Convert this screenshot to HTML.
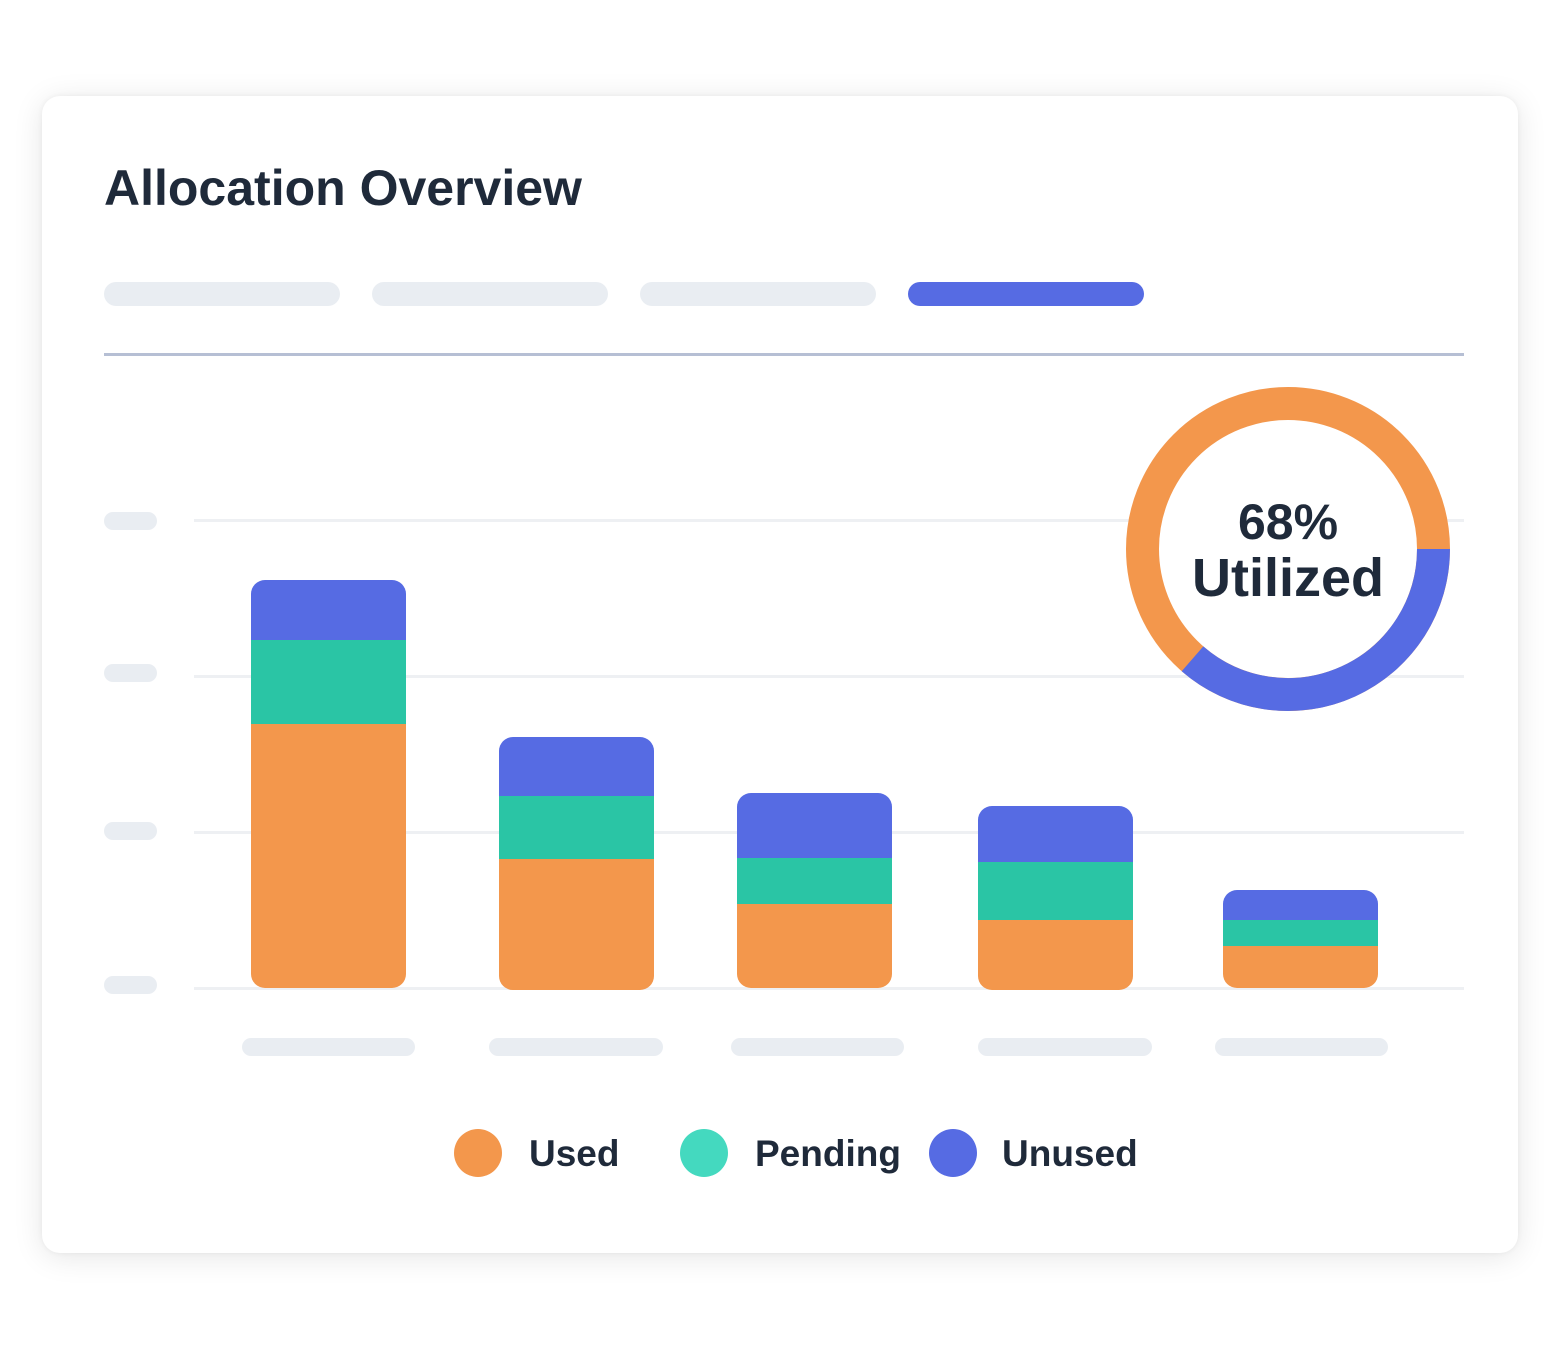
<!DOCTYPE html>
<html><head><meta charset="utf-8"><style>
html,body{margin:0;padding:0;background:#fff;width:1560px;height:1350px;overflow:hidden}
.card{position:absolute;left:42px;top:96px;width:1476px;height:1157px;background:#fff;border-radius:18px;box-shadow:0 4px 30px rgba(0,0,0,0.10),0 0 6px rgba(0,0,0,0.05)}
svg{position:absolute;left:0;top:0}
text{font-family:"Liberation Sans",sans-serif;font-weight:bold;fill:#1f2a3a}
</style></head><body>
<div class="card"></div>
<svg width="1560" height="1350" viewBox="0 0 1560 1350">
<text x="104" y="205" font-size="50">Allocation Overview</text>
<g fill="#e9edf2">
<rect x="104" y="282" width="236" height="24" rx="12"/>
<rect x="372" y="282" width="236" height="24" rx="12"/>
<rect x="640" y="282" width="236" height="24" rx="12"/>
</g>
<rect x="908" y="282" width="236" height="24" rx="12" fill="#566be3"/>
<rect x="104" y="353" width="1360" height="3" fill="#b6bfd4"/>
<g fill="#eef0f3">
<rect x="194" y="519" width="1270" height="3"/>
<rect x="194" y="675" width="1270" height="3"/>
<rect x="194" y="831" width="1270" height="3"/>
<rect x="194" y="987" width="1270" height="3"/>
</g>
<g fill="#e9edf2">
<rect x="104" y="512" width="53" height="18" rx="9"/>
<rect x="104" y="664" width="53" height="18" rx="9"/>
<rect x="104" y="822" width="53" height="18" rx="9"/>
<rect x="104" y="976" width="53" height="18" rx="9"/>
<rect x="242" y="1038" width="173" height="18" rx="9"/>
<rect x="489" y="1038" width="174" height="18" rx="9"/>
<rect x="731" y="1038" width="173" height="18" rx="9"/>
<rect x="978" y="1038" width="174" height="18" rx="9"/>
<rect x="1215" y="1038" width="173" height="18" rx="9"/>
</g>
<defs>
<clipPath id="c1"><rect x="251" y="580" width="155" height="408" rx="14"/></clipPath>
<clipPath id="c2"><rect x="499" y="737" width="155" height="253" rx="14"/></clipPath>
<clipPath id="c3"><rect x="737" y="793" width="155" height="195" rx="14"/></clipPath>
<clipPath id="c4"><rect x="978" y="806" width="155" height="184" rx="14"/></clipPath>
<clipPath id="c5"><rect x="1223" y="890" width="155" height="98" rx="14"/></clipPath>
</defs>
<g clip-path="url(#c1)"><rect x="251" y="580" width="155" height="60" fill="#566be3"/><rect x="251" y="640" width="155" height="84" fill="#2ac5a5"/><rect x="251" y="724" width="155" height="264" fill="#f3974c"/></g>
<g clip-path="url(#c2)"><rect x="499" y="737" width="155" height="59" fill="#566be3"/><rect x="499" y="796" width="155" height="63" fill="#2ac5a5"/><rect x="499" y="859" width="155" height="131" fill="#f3974c"/></g>
<g clip-path="url(#c3)"><rect x="737" y="793" width="155" height="65" fill="#566be3"/><rect x="737" y="858" width="155" height="46" fill="#2ac5a5"/><rect x="737" y="904" width="155" height="84" fill="#f3974c"/></g>
<g clip-path="url(#c4)"><rect x="978" y="806" width="155" height="56" fill="#566be3"/><rect x="978" y="862" width="155" height="58" fill="#2ac5a5"/><rect x="978" y="920" width="155" height="70" fill="#f3974c"/></g>
<g clip-path="url(#c5)"><rect x="1223" y="890" width="155" height="30" fill="#566be3"/><rect x="1223" y="920" width="155" height="26" fill="#2ac5a5"/><rect x="1223" y="946" width="155" height="42" fill="#f3974c"/></g>
<circle cx="1288" cy="549" r="162" fill="#fff"/>
<circle cx="1288" cy="549" r="145.5" fill="none" stroke="#f3974c" stroke-width="33"/>
<path d="M1433.5 549 A145.5 145.5 0 0 1 1192.5 658.8" fill="none" stroke="#566be3" stroke-width="33"/>
<text x="1288" y="539" font-size="50" text-anchor="middle">68%</text>
<text x="1288" y="596" font-size="54" text-anchor="middle">Utilized</text>
<circle cx="478" cy="1153" r="24" fill="#f3974c"/>
<circle cx="704" cy="1153" r="24" fill="#44d9bf"/>
<circle cx="953" cy="1153" r="24" fill="#566be3"/>
<text x="529" y="1166" font-size="37">Used</text>
<text x="755" y="1166" font-size="37">Pending</text>
<text x="1002" y="1166" font-size="37">Unused</text>
</svg>
</body></html>
